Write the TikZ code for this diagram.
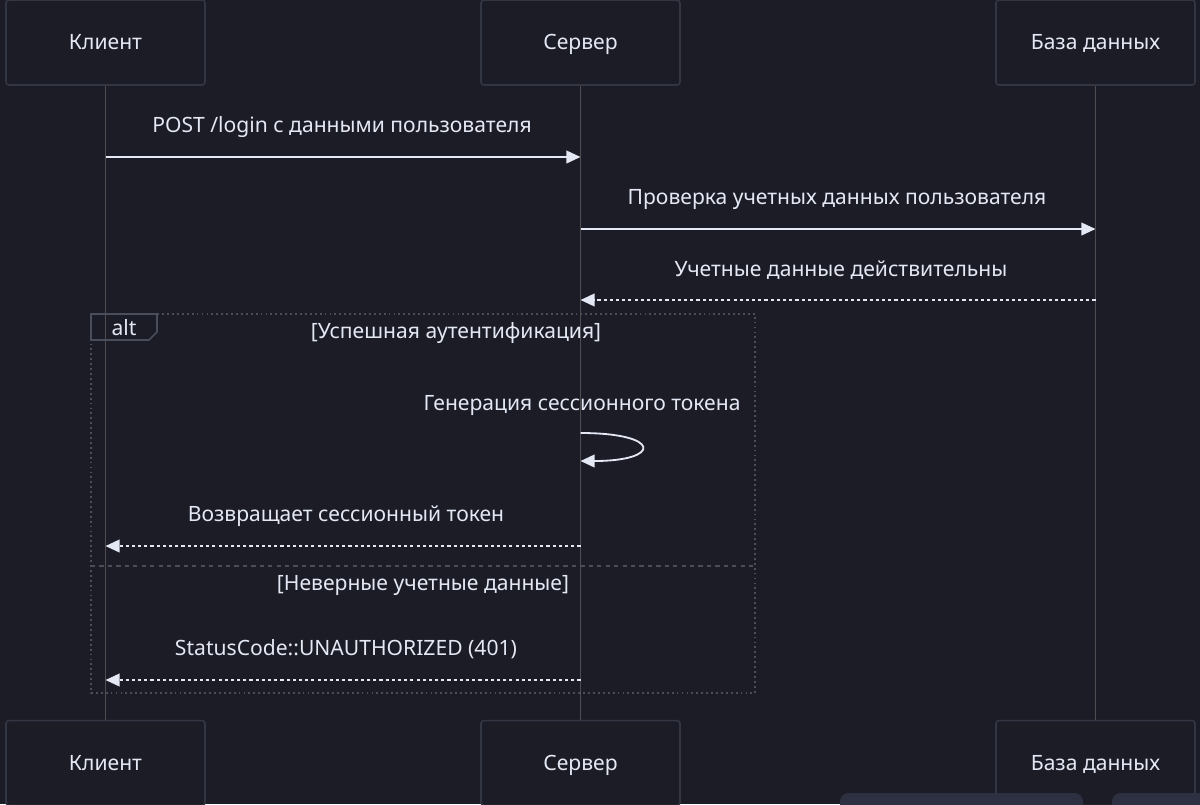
\documentclass[tikz,border=0pt]{standalone}
\usepackage{fontspec}
\setmainfont{Noto Sans}
\usetikzlibrary{arrows.meta,positioning}
\definecolor{bgdark}{RGB}{27,28,38}
\definecolor{boxline}{RGB}{50,53,66}
\definecolor{txtlight}{RGB}{228,232,244}
\definecolor{lifegray}{RGB}{78,78,80}
\definecolor{framegray}{RGB}{74,78,90}
\definecolor{panelgray}{RGB}{45,48,64}

\begin{document}
\begin{tikzpicture}[x=0.025cm,y=-0.025cm,
    every node/.style={text=txtlight,font=\fontsize{15}{18}\selectfont,
      text height=12pt,text depth=1.6pt},
    actor/.style={draw=boxline,fill=bgdark,line width=1.2pt,rounded corners=2pt,
      minimum width=4.97cm,minimum height=2.12cm,inner sep=0pt},
    life/.style={draw=lifegray,line width=1.2pt},
    msg/.style={draw=txtlight,line width=1.3pt,-{Triangle[length=10pt,width=9pt]}},
    reply/.style={msg,dash pattern=on 2.2pt off 2.2pt},
    frame/.style={draw=framegray,line width=1.3pt,dash pattern=on 1.3pt off 2.2pt},
    lbl/.style={anchor=center,inner sep=0pt}]
  % Background and page.
  \fill[bgdark] (0,0) rectangle (1200,804);
  \clip (0,0) rectangle (1200,804);

  % Participants, top and bottom.
  \node[actor] (clientT) at (105.5,42.5) {Клиент};
  \node[actor] (serverT) at (580.5,42.5) {Сервер};
  \node[actor] (dbT)     at (1095.5,42.5) {База данных};
  \node[actor] (clientB) at (105.5,763) {Клиент};
  \node[actor] (serverB) at (580.5,763) {Сервер};
  \node[actor] (dbB)     at (1095.5,763) {База данных};

  % Lifelines.
  \draw[life] (clientT) -- (clientB);
  \draw[life] (serverT) -- (serverB);
  \draw[life] (dbT) -- (dbB);

  % Login request and credential check.
  \node[lbl] (m1) at (342,125) {POST /login с данными пользователя};
  \draw[msg] (clientT |- 0,157) -- (serverT |- 0,157);
  \node[lbl] (m2) at (837,197) {Проверка учетных данных пользователя};
  \draw[msg] (serverT |- 0,229) -- (dbT |- 0,229);
  \node[lbl] (m3) at (841,269) {Учетные данные действительны};
  \draw[reply] (dbT |- 0,300) -- (serverT |- 0,300);

  % alt block.
  \draw[frame] (91,314) rectangle (755,693);
  \draw[frame,dash pattern=on 3pt off 3pt] (91,566) -- (755,566);
  \draw[draw=framegray,line width=1.1pt] (91,314) -- (157,314) -- (157,332)
    -- (149,340) -- (91,340) -- cycle;
  \node[lbl] (altlbl) at (124,328) {alt};
  \node[lbl] (c1) at (456,331) {[Успешная аутентификация]};
  \node[lbl] (c2) at (423,583) {[Неверные учетные данные]};

  % Token generation (self call) and replies.
  \node[lbl] (m4) at (582,403) {Генерация сессионного токена};
  \draw[msg] (serverT |- 0,433) .. controls (662,433) and (662,461) .. (serverT |- 0,461);
  \node[lbl] (m5) at (346,514) {Возвращает сессионный токен};
  \draw[reply] (serverT |- 0,546) -- (clientT |- 0,546);
  \node[lbl] (m6) at (346,648) {StatusCode::UNAUTHORIZED (401)};
  \draw[reply] (serverT |- 0,680) -- (clientT |- 0,680);

  % Panels cut by the lower edge.
  \fill[panelgray,rounded corners=6pt] (840,793) rectangle (1083,830);
  \fill[panelgray,rounded corners=6pt] (1112,793) rectangle (1230,830);
\end{tikzpicture}
\end{document}
